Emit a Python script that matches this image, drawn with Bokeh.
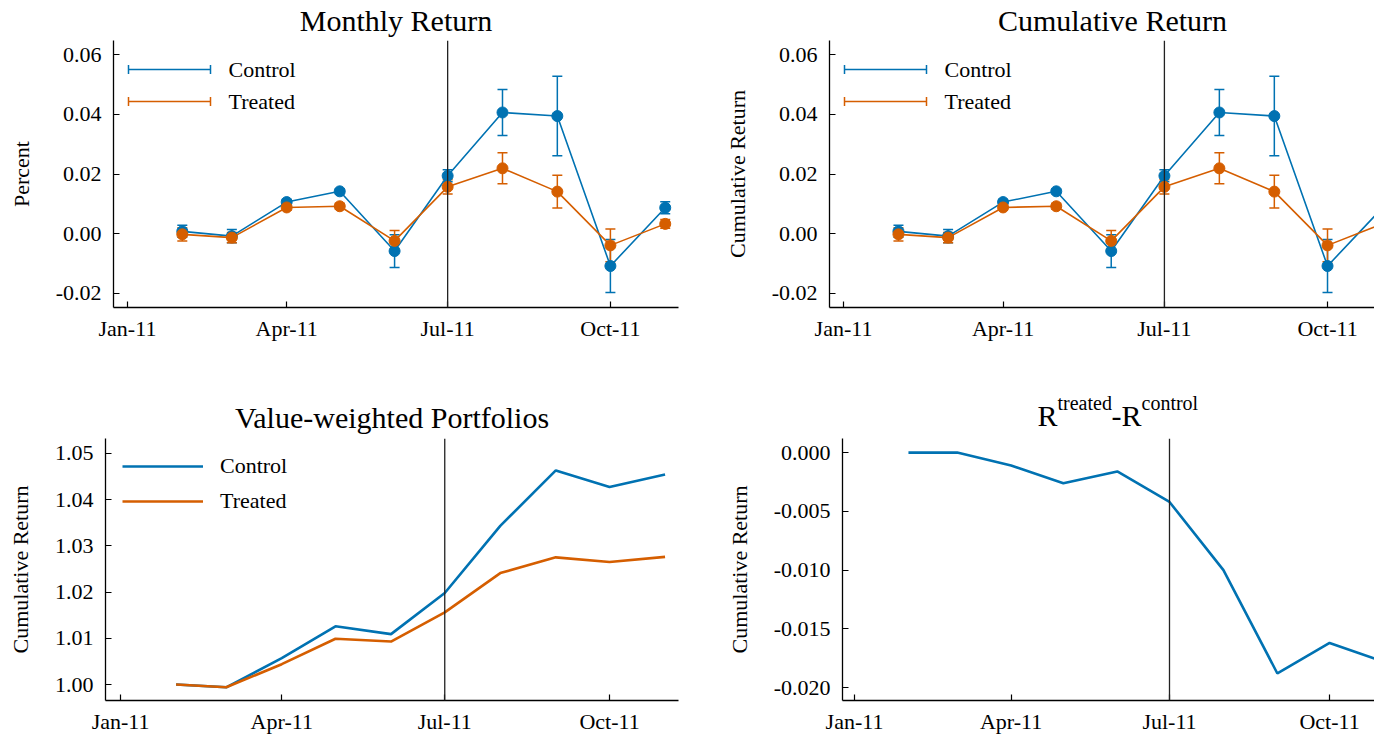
from datetime import datetime

from bokeh.embed import file_html
from bokeh.layouts import column, row
from bokeh.models import (BoxAnnotation, ColumnDataSource, FixedTicker, Label, Legend,
                          LegendItem, NumeralTickFormatter, Range1d, Span, TeeHead, Whisker)
from bokeh.plotting import figure
from bokeh.resources import INLINE

# ---------------------------------------------------------------- data
months = ["2011-02-01", "2011-03-01", "2011-04-01", "2011-05-01", "2011-06-01",
          "2011-07-01", "2011-08-01", "2011-09-01", "2011-10-01", "2011-11-01"]

# monthly returns with standard errors
control_ret = [0.0008, -0.0008, 0.0106, 0.0142, -0.0058, 0.0194, 0.0406, 0.0394, -0.0108, 0.0087]
control_err = [0.0020, 0.0022, 0.0009, 0.0008, 0.0055, 0.0020, 0.0077, 0.0133, 0.0089, 0.0020]
treated_ret = [-0.0002, -0.0013, 0.0088, 0.0092, -0.0024, 0.0157, 0.0219, 0.0141, -0.0039, 0.0033]
treated_err = [0.0022, 0.0017, 0.0009, 0.0010, 0.0035, 0.0024, 0.0052, 0.0055, 0.0055, 0.0015]

# value-weighted portfolio cumulative returns
vw_control = [1.0000, 0.9994, 1.0057, 1.0126, 1.0109, 1.0198, 1.0343, 1.0463, 1.0427, 1.0454]
vw_treated = [1.0000, 0.9994, 1.0044, 1.0099, 1.0093, 1.0156, 1.0241, 1.0275, 1.0265, 1.0276]

# treated minus control
vw_diff = [0.0000, 0.0000, -0.0011, -0.0026, -0.0016, -0.0042, -0.0100, -0.0188, -0.0162, -0.0178]

event_date = "2011-07-01"
x_tick_dates = ["2011-01-01", "2011-04-01", "2011-07-01", "2011-10-01"]
x_tick_labels = ["Jan-11", "Apr-11", "Jul-11", "Oct-11"]

ret_ticks = [-0.02, 0.00, 0.02, 0.04, 0.06]
vw_ticks = [1.00, 1.01, 1.02, 1.03, 1.04, 1.05]
diff_ticks = [-0.020, -0.015, -0.010, -0.005, 0.000]

# ---------------------------------------------------------------- style
BLUE = "#0072B2"
ORANGE = "#D55E00"
FONT = "Liberation Serif"
TICK_SIZE = "22px"
TITLE_SIZE = "30px"
SUP_SIZE = "20px"
DAY = 86400000


def to_ms(s):
    return int((datetime.strptime(s, "%Y-%m-%d") - datetime(1970, 1, 1)).total_seconds() * 1000)


dates = [datetime.strptime(m, "%Y-%m-%d") for m in months]
jan1 = to_ms(x_tick_dates[0])
tick_ms = [to_ms(d) for d in x_tick_dates]


def make_panel(width, height, borders, x_days, y_range, y_ticks, y_format, y_label):
    left, right, bottom = borders
    p = figure(width=width, height=height, x_axis_type="datetime",
               x_range=Range1d(jan1 + x_days[0] * DAY, jan1 + x_days[1] * DAY),
               y_range=Range1d(*y_range),
               output_backend="svg", toolbar_location=None, frame_align=False,
               min_border_left=left, min_border_right=right,
               min_border_top=0, min_border_bottom=bottom)
    p.outline_line_color = None
    p.grid.visible = False
    p.background_fill_color = "white"
    p.border_fill_color = "white"

    p.xaxis.ticker = FixedTicker(ticks=tick_ms)
    p.xaxis.major_label_overrides = dict(zip(tick_ms, x_tick_labels))
    p.yaxis.ticker = FixedTicker(ticks=y_ticks)
    p.yaxis.formatter = NumeralTickFormatter(format=y_format)
    p.yaxis.axis_label = y_label

    for ax in (p.xaxis[0], p.yaxis[0]):
        ax.axis_line_color = "black"
        ax.axis_line_width = 1.3
        ax.major_tick_line_color = "black"
        ax.major_tick_line_width = 1.2
        ax.major_tick_in = 6
        ax.major_tick_out = 0
        ax.minor_tick_line_color = None
        ax.major_label_text_font = FONT
        ax.major_label_text_font_size = TICK_SIZE
        ax.major_label_text_color = "black"
        ax.axis_label_text_font = FONT
        ax.axis_label_text_font_size = TICK_SIZE
        ax.axis_label_text_font_style = "normal"
        ax.axis_label_text_color = "black"
    p.xaxis.major_label_standoff = 8
    p.yaxis.major_label_standoff = 12
    p.yaxis.axis_label_standoff = 19

    p.add_layout(Span(location=to_ms(event_date), dimension="height",
                      line_color="#222222", line_width=1.3))
    return p


def make_title(width, height, pieces):
    # a bare strip above a panel that only carries its heading text
    t = figure(width=width, height=height, x_range=Range1d(0, 1), y_range=Range1d(0, 1),
               output_backend="svg", toolbar_location=None, frame_align=False,
               x_axis_location=None, y_axis_location=None,
               min_border_left=0, min_border_right=0, min_border_top=0, min_border_bottom=0)
    t.outline_line_color = None
    t.grid.visible = False
    t.background_fill_color = "white"
    t.border_fill_color = "white"
    for text, x, y, size, align in pieces:
        t.add_layout(Label(x=x, y=y, x_units="screen", y_units="screen", text=text,
                           text_align=align, text_baseline="middle",
                           text_font=FONT, text_font_size=size, text_color="black"))
    return t


def add_errorbar_series(p, ret, err, color):
    src = ColumnDataSource(dict(
        x=dates, y=ret,
        lower=[r - e for r, e in zip(ret, err)],
        upper=[r + e for r, e in zip(ret, err)]))
    p.add_layout(Whisker(base="x", lower="lower", upper="upper", source=src,
                         dimension="height", level="underlay",
                         line_color=color, line_width=1.5,
                         lower_head=TeeHead(size=10, line_color=color, line_width=1.5),
                         upper_head=TeeHead(size=10, line_color=color, line_width=1.5)))
    p.line("x", "y", source=src, line_color=color, line_width=1.6)
    p.scatter("x", "y", source=src, size=11, fill_color=color, line_color=color)


def add_errorbar_legend(p, entries):
    # line with end caps, followed by the series name
    x0, x1, x_text = 15, 97, 115
    for (name, color), yc in zip(entries, (238, 206)):
        p.add_layout(BoxAnnotation(left=x0, right=x1, bottom=yc - 0.75, top=yc + 0.75,
                                   left_units="screen", right_units="screen",
                                   bottom_units="screen", top_units="screen",
                                   fill_color=color, fill_alpha=1, line_color=None))
        for xe in (x0, x1):
            p.add_layout(BoxAnnotation(left=xe - 0.75, right=xe + 0.75,
                                       bottom=yc - 4.5, top=yc + 4.5,
                                       left_units="screen", right_units="screen",
                                       bottom_units="screen", top_units="screen",
                                       fill_color=color, fill_alpha=1, line_color=None))
        p.add_layout(Label(x=x_text, y=yc, x_units="screen", y_units="screen", text=name,
                           text_baseline="middle", text_font=FONT,
                           text_font_size=TICK_SIZE, text_color="black"))


ret_range = (-0.0247, 0.0647)
legend_entries = [("Control", BLUE), ("Treated", ORANGE)]

# ---------------------------------------------------------------- monthly return
t1 = make_title(690, 40, [("Monthly Return", 395.5, 20, TITLE_SIZE, "center")])
p1 = make_panel(690, 330, (113, 12, 63), (-7.9, 311.5), ret_range,
                ret_ticks, "0.00", "Percent")
add_errorbar_series(p1, control_ret, control_err, BLUE)
add_errorbar_series(p1, treated_ret, treated_err, ORANGE)
add_errorbar_legend(p1, legend_entries)

# ---------------------------------------------------------------- cumulative return
t2 = make_title(684, 40, [("Cumulative Return", 422, 20, TITLE_SIZE, "center")])
p2 = make_panel(684, 330, (139, 0, 63), (-7.9, 299.5), ret_range,
                ret_ticks, "0.00", "Cumulative Return")
add_errorbar_series(p2, control_ret, control_err, BLUE)
add_errorbar_series(p2, treated_ret, treated_err, ORANGE)
add_errorbar_legend(p2, legend_entries)

# ---------------------------------------------------------------- value-weighted portfolios
t3 = make_title(690, 68, [("Value-weighted Portfolios", 391.5, 21, TITLE_SIZE, "center")])
p3 = make_panel(690, 298, (105, 12, 35), (-8.4, 311.5), (0.99655, 1.0532),
                vw_ticks, "0.00", "Cumulative Return")
r_c = p3.line(dates, vw_control, line_color=BLUE, line_width=2.6)
r_t = p3.line(dates, vw_treated, line_color=ORANGE, line_width=2.6)
legend = Legend(items=[LegendItem(label="Control", renderers=[r_c]),
                       LegendItem(label="Treated", renderers=[r_t])],
                location=(17, 186), orientation="vertical",
                glyph_width=81, glyph_height=24, label_height=24, spacing=9,
                label_standoff=17, padding=0, margin=0,
                border_line_color=None, background_fill_alpha=0,
                label_text_font=FONT, label_text_font_size=TICK_SIZE,
                label_text_color="black")
p3.add_layout(legend)

# ---------------------------------------------------------------- treated minus control
t4 = make_title(684, 68, [("R", 347, 23, TITLE_SIZE, "left"),
                          ("treated", 367, 36, SUP_SIZE, "left"),
                          ("-R", 421, 23, TITLE_SIZE, "left"),
                          ("control", 451, 36, SUP_SIZE, "left")])
p4 = make_panel(684, 298, (152, 0, 35), (-6.9, 298.8), (-0.0211, 0.0012),
                diff_ticks, "0.000", "Cumulative Return")
p4.line(dates, vw_diff, line_color=BLUE, line_width=2.6)

layout = column(row(column(t1, p1), column(t2, p2)),
                row(column(t3, p3), column(t4, p4)))
open("out.html", "w").write(file_html(layout, INLINE))
